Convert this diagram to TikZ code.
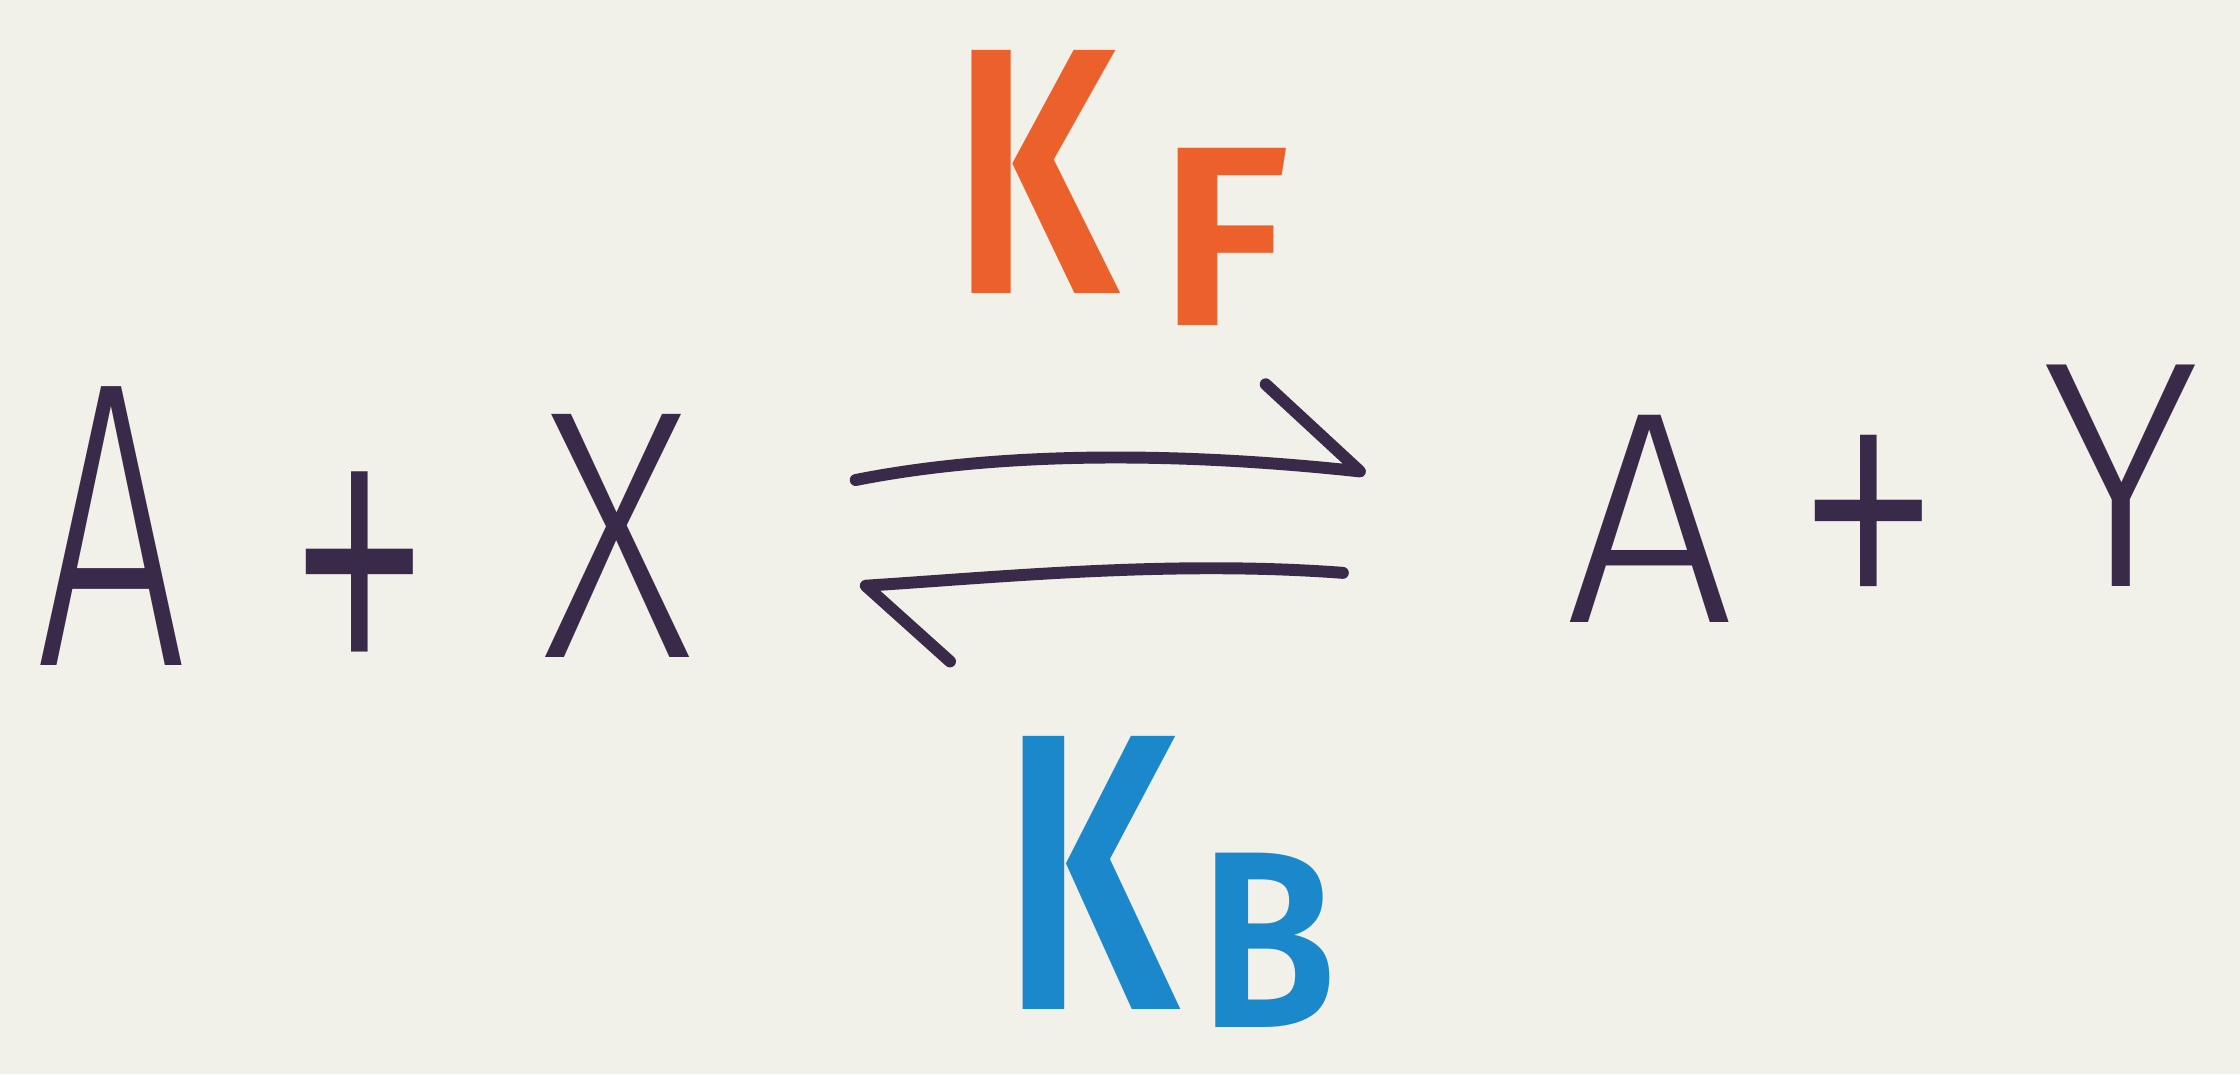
\documentclass[tikz,border=0pt]{standalone}
\usepackage{fontspec}
\usepackage{graphicx}
\newfontfamily\handfont{Fira Sans Light}
\newfontfamily\markfont{Fira Sans SemiBold}
\definecolor{paper}{RGB}{241,241,234}
\definecolor{ink}{RGB}{58,42,74}
\definecolor{kforange}{RGB}{236,96,44}
\definecolor{kbblue}{RGB}{28,136,204}
\newdimen\un \un=0.40647pt
\newcommand\fitto[3]{\resizebox{#1\un}{#2\un}{#3}}
\tikzset{
  letter/.style={inner sep=0pt, outer sep=0pt, text=ink, font=\handfont},
  kfletter/.style={inner sep=0pt, outer sep=0pt, text=kforange, font=\markfont},
  kbletter/.style={inner sep=0pt, outer sep=0pt, text=kbblue, font=\markfont},
  harpoon/.style={draw=ink, line width=3.4pt, line cap=round, line join=round}
}
\begin{document}
\begin{tikzpicture}[x=0.0142857cm, y=-0.0142857cm]
\fill[paper] (0,0) rectangle (1568,752);
\useasboundingbox (0,0) rectangle (1568,752);
% left side
\node[letter] (a1) at (78,368) {\fitto{105}{195}{A}};
\node[letter] (plus1) at (252,421) {\fitto{104}{181}{+}};
\node[letter] (x) at (432,375) {\fitto{105}{170}{X}};
% right side
\node[letter] (a2) at (1155,363) {\fitto{118}{145}{A}};
\node[letter] (plus2) at (1308,381) {\fitto{104}{152}{+}};
\node[letter] (y) at (1485,333) {\fitto{110}{155}{Y}};
% rate constants
\node[kfletter] (kf) at (725,120) {\fitto{116}{170}{K}};
\node[kfletter] (kfsub) at (857,166) {\fitto{92}{124}{F}};
\node[kbletter] (kb) at (763,611) {\fitto{123}{191}{K}};
\node[kbletter] (kbsub) at (888,658) {\fitto{96}{122}{B}};
% harpoons
\coordinate (fs) at (599,336);
\coordinate (fe) at (952,330);
\coordinate (fb) at (886,269);
\coordinate (bs) at (940,401);
\coordinate (be) at (606,410);
\coordinate (bb) at (665,463);
\draw[harpoon] (fs) .. controls (720,312) and (860,320) .. (fe) -- (fb);
\draw[harpoon] (bs) .. controls (820,392) and (700,404) .. (be) -- (bb);
\end{tikzpicture}
\end{document}
